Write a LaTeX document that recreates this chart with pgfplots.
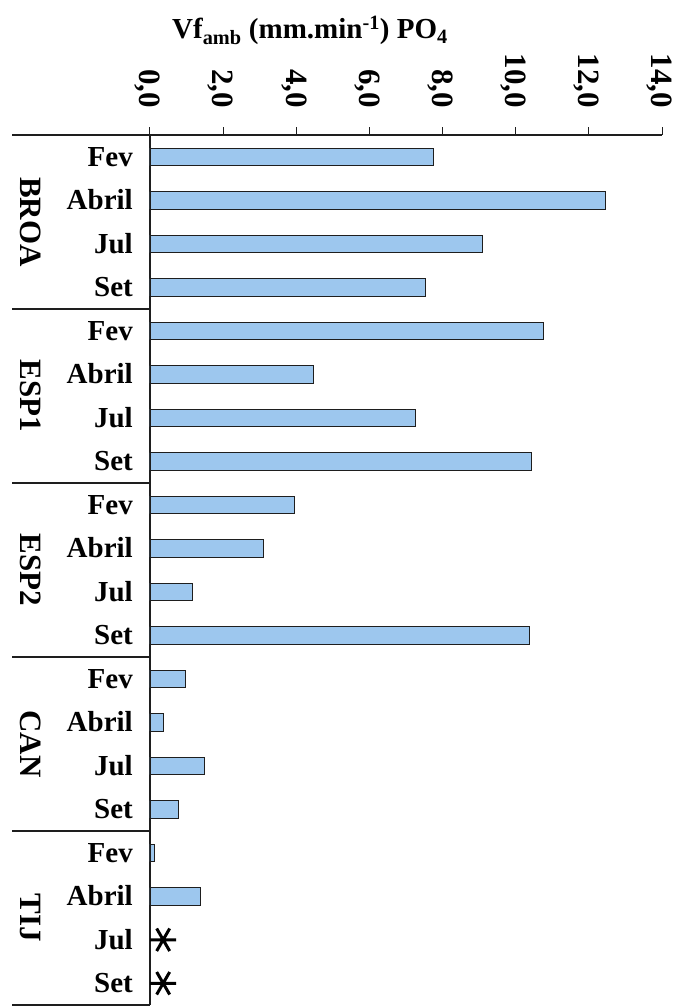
\documentclass[border=0pt]{standalone}
\usepackage{pgfplots}
\pgfplotsset{compat=1.18}
\usepackage{fontspec}
\setmainfont{Liberation Serif}

\definecolor{barblue}{RGB}{157,199,238}
\definecolor{inkline}{RGB}{30,30,30}

% bar lengths, one row per sampling campaign, top to bottom
\pgfplotstableread{
idx val
0  7.76
1  12.46
2  9.09
3  7.54
4  10.75
5  4.48
6  7.26
7  10.43
8  3.95
9  3.11
10 1.16
11 10.37
12 0.98
13 0.38
14 1.48
15 0.79
16 0.12
17 1.38
}\vfdata

\tikzset{site/.style={rotate=-90, anchor=center, inner sep=0pt,
    text height=20.5pt, text depth=0pt,
    font=\fontsize{31}{36}\selectfont\bfseries}}

\begin{document}
\begin{tikzpicture}
\begin{axis}[
  scale only axis,
  width=512pt, height=870pt,
  xmin=0, xmax=14,
  ymin=-0.5, ymax=19.5,
  y dir=reverse,
  clip=false,
  axis x line=top,
  axis y line=left,
  axis line style={-, line width=1.2pt, draw=inkline},
  xtick={0,2,...,14},
  xticklabels={{0,0},{2,0},{4,0},{6,0},{8,0},{10,0},{12,0},{14,0}},
  tick align=outside,
  major tick length=8pt,
  xtick style={line width=1pt, draw=inkline},
  xticklabel style={rotate=-90, anchor=east, inner sep=0pt,
    text height=20.5pt, text depth=0pt,
    font=\fontsize{31}{36}\selectfont\bfseries},
  xticklabel shift=19pt,
  ytick={0,...,19},
  yticklabels={Fev,Abril,Jul,Set,Fev,Abril,Jul,Set,Fev,Abril,Jul,Set,Fev,Abril,Jul,Set,Fev,Abril,Jul,Set},
  ytick style={draw=none},
  yticklabel style={anchor=east, inner sep=0pt, xshift=-9pt,
    text height=19pt, text depth=0pt,
    font=\fontsize{29}{34}\selectfont\bfseries},
  xbar,
  bar width=17.5pt,
]
\addplot[fill=barblue, draw=inkline, line width=0.9pt] table[x=val, y=idx] {\vfdata};

% campaigns without a measurement
\addplot[only marks, mark=asterisk, mark size=13pt,
  mark options={rotate=90, line width=3pt, draw=black}]
  coordinates {(0.36,18) (0.36,19)};

% group separators to the left of the axis
\pgfplotsinvokeforeach{-0.5,3.5,7.5,11.5,15.5,19.5}{
  \draw[line width=1.3pt, draw=inkline] (axis cs:-3.76,#1) -- (axis cs:0,#1);
}

% site names
\node[site] at (axis cs:-3.25,1.5) {BROA};
\node[site] at (axis cs:-3.25,5.5) {ESP1};
\node[site] at (axis cs:-3.25,9.5) {ESP2};
\node[site] at (axis cs:-3.25,13.5) {CAN};
\node[site] at (axis cs:-3.25,17.5) {TIJ};

% quantity name above the scale
\node[anchor=base, inner sep=0pt, font=\fontsize{29}{34}\selectfont\bfseries]
  at (axis cs:4.375,-2.71) {Vf\textsubscript{amb} (mm.min\textsuperscript{-1}) PO\textsubscript{4}};
\end{axis}
\path (-150pt,-2pt) rectangle (533pt,1005pt);
\end{tikzpicture}
\end{document}
